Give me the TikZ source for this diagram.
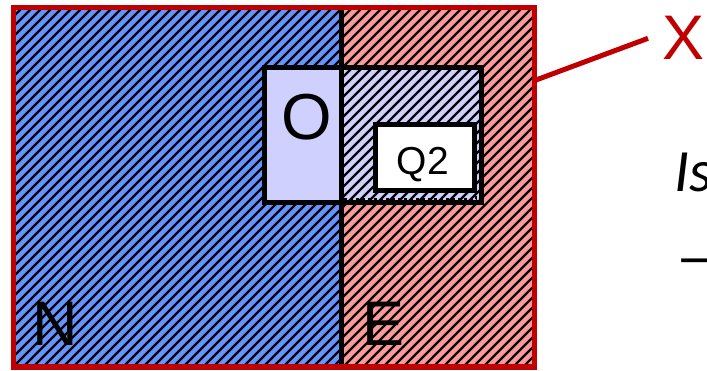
\documentclass[tikz,border=0pt]{standalone}
\usepackage{fontspec}
\setmainfont{Liberation Sans}
\newfontfamily\calfont{Carlito}
\usetikzlibrary{arrows.meta,calc,positioning}
\definecolor{regionblue}{RGB}{100,148,255}
\definecolor{regionpink}{RGB}{255,153,153}
\definecolor{lavender}{RGB}{208,208,255}
\definecolor{framered}{RGB}{192,0,0}
\tikzset{
  line cap=butt,
  line join=miter,
  hatchline/.style={line width=2.2pt, black},
  blackbox/.style={draw=black, line width=5pt},
  framebox/.style={draw=framered, line width=5pt},
  letter/.style={inner sep=0pt, anchor=base, font=\fontsize{63}{70}\selectfont}
}
% hatch a rectangle with black / lines
\newcommand\hatch[4]{%
  \begin{scope}
    \clip (#1,#2) rectangle (#3,#4);
    \foreach \c in {-400,-390,...,720}
      \draw[hatchline] (\c,380) -- ++(400,-400);
  \end{scope}}

\begin{document}
\begin{tikzpicture}[x=1pt,y=-1pt]
  \useasboundingbox (0,0) rectangle (707,371);

  % the two regions
  \fill[regionblue] (13,8) rectangle (341,367);
  \hatch{13}{8}{341}{367}
  \fill[regionpink] (341,8) rectangle (534,367);
  \hatch{341}{8}{534}{367}
  \draw[blackbox] (341,8) -- (341,367);

  % inner boxes
  \fill[lavender] (264,68) rectangle (341,203);
  \fill[lavender] (341,68) rectangle (481,203);
  \hatch{341}{68}{481}{203}
  \draw[black, line width=2pt, dashed] (344,199) -- (476,199) -- (476,125);
  \draw[blackbox] (264,68) rectangle (481,203);
  \draw[blackbox] (341,68) -- (341,203);
  \draw[blackbox, fill=white] (375,125) rectangle (474,191);

  % outer frame and its label
  \draw[framebox] (13,8) rectangle (534,367);
  \coordinate (xtip) at (536,80);
  \node[letter, text=framered, anchor=base west] (xlab) at (662,60) {X};
  \draw[framered, line width=5pt] (xtip) -- ($(xlab.west)+(-14,0)$);

  \node[letter, font=\fontsize{65}{70}\selectfont] (olab) at (307,140) {O};
  \node[letter, font=\fontsize{39}{44}\selectfont] (qlab) at (423,175) {Q2};
  \node[letter] (nlab) at (55,345) {N};
  \node[letter] (elab) at (384,345) {E};

  \node[letter, anchor=base west, font=\calfont\itshape\fontsize{60}{66}\selectfont] (islab) at (674,192) {Is};
  \node[letter, anchor=base west, font=\calfont\fontsize{60}{66}\selectfont] (dash) at (676,278) {—};
\end{tikzpicture}
\end{document}
